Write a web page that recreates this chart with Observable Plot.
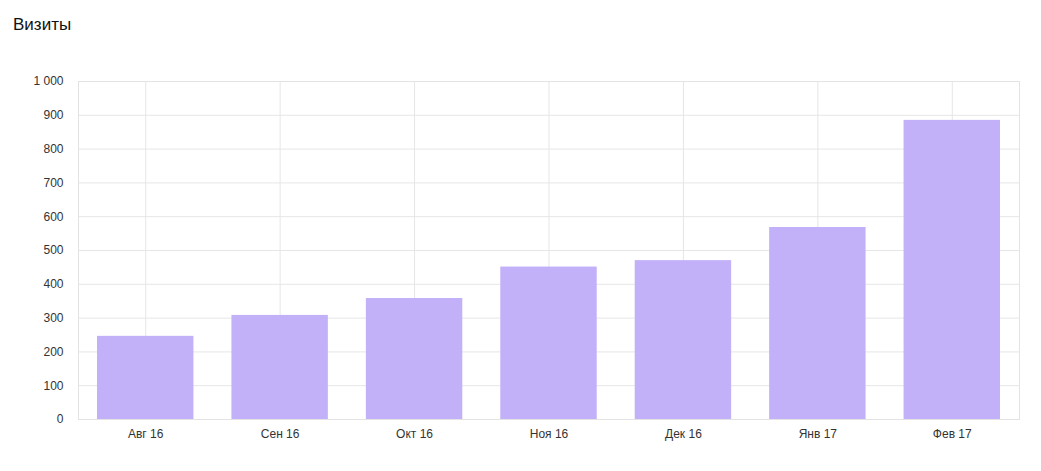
<!DOCTYPE html>
<html>
<head>
<meta charset="utf-8">
<script src="https://cdn.jsdelivr.net/npm/d3@7"></script>
<script src="https://cdn.jsdelivr.net/npm/@observablehq/plot@0.6"></script>
<style>
  body { margin: 0; background: #fff; font-family: "Liberation Sans", Arial, sans-serif; }
  #title { height: 50px; box-sizing: border-box; padding: 15px 0 0 13px; font-size: 17px; line-height: 20px; color: #111; }
</style>
</head>
<body>
<div id="title">Визиты</div>
<div id="chart"></div>
<script>
const months = ["Авг 16", "Сен 16", "Окт 16", "Ноя 16", "Дек 16", "Янв 17", "Фев 17"];
const visits = [246, 308, 358, 451, 470, 568, 885];
const yTicks = [0, 100, 200, 300, 400, 500, 600, 700, 800, 900, 1000];

const data = months.map((m, i) => ({month: m, value: visits[i]}));
const fmt = d3.formatLocale({decimal: ",", thousands: "\u00a0", grouping: [3], currency: ["", ""]}).format(",d");

const chart = Plot.plot({
  width: 1041,
  height: 421,
  marginTop: 31,
  marginBottom: 52,
  marginLeft: 78,
  marginRight: 22,
  style: {fontFamily: "'Liberation Sans', Arial, sans-serif", fontSize: "12px", color: "#333"},
  x: {domain: months, padding: 0, round: false, label: null},
  y: {domain: [0, 1000], label: null},
  marks: [
    Plot.ruleY(yTicks, {stroke: "#e6e6e6"}),
    Plot.ruleX(months, {stroke: "#e6e6e6"}),
    Plot.frame({stroke: "#e3e3e3"}),
    Plot.barY(data, {x: "month", y: "value", fill: "#c2b0f8", insetLeft: 19, insetRight: 19}),
    Plot.axisX({tickSize: 0, tickPadding: 10, fill: "#333"}),
    Plot.axisY({ticks: yTicks, tickSize: 0, tickPadding: 15, tickFormat: fmt, fill: "#333"})
  ]
});
document.getElementById("chart").appendChild(chart);
</script>
</body>
</html>
